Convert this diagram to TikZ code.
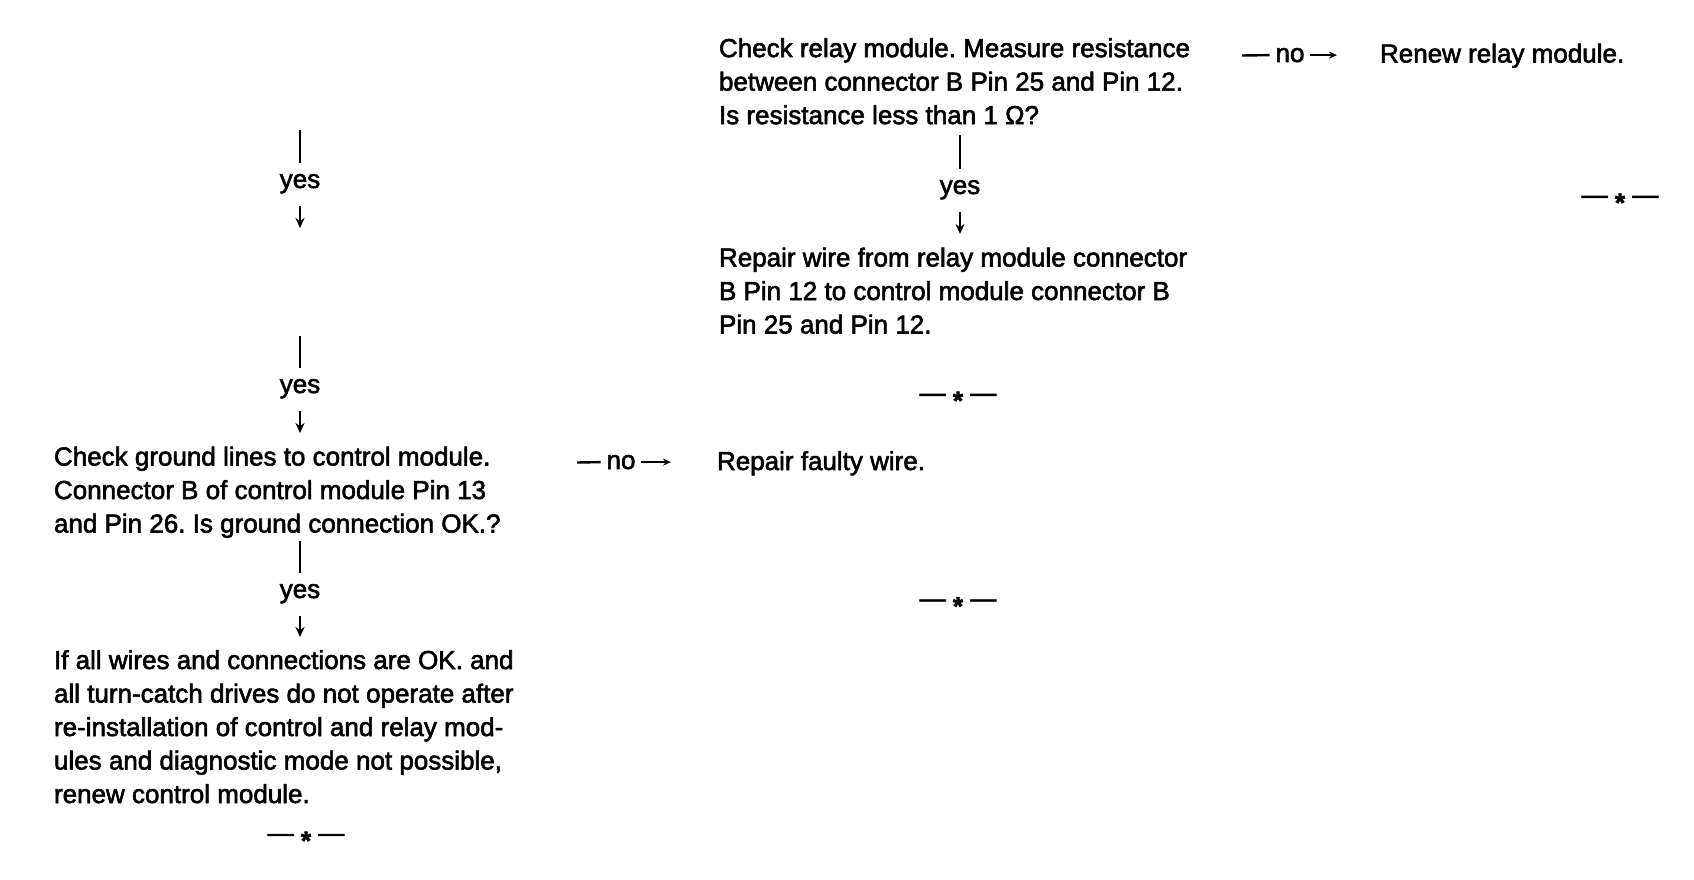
\documentclass[tikz,border=0pt]{standalone}
\usepackage{fontspec}
\setmainfont{Liberation Sans}[FakeBold=2.2]
\usetikzlibrary{arrows.meta}
\frenchspacing
\begin{document}
\begin{tikzpicture}[x=1pt,y=-1pt,
  every node/.style={font=\fontsize{26}{33.5}\selectfont, inner sep=0pt, outer sep=0pt, text=black},
  txtbox/.style={anchor=north west, align=left},
  linebox/.style={anchor=base west},
  yeslbl/.style={anchor=base, text height=13.5pt, text depth=5.5pt, inner ysep=12pt},
  nolbl/.style={anchor=base},
  endmark/.style={anchor=base},
  stem/.style={line width=2.8pt},
  down/.style={line width=2.4pt, -{Stealth[length=10pt,width=9pt]}},
  dashln/.style={line width=2.4pt},
  rarrow/.style={line width=2pt, -{Stealth[length=8pt,width=7pt]}},
]
\fill[white] (0,0) rectangle (1694,880);
\newcommand{\sepmark}{—\ \raisebox{-0.31em}{\textbf{*}}\ —}

% ---------- left column ----------
\coordinate (s1) at (300,130);
\node[yeslbl] (y1) at (300,188) {yes};
\coordinate (t1) at (300,228);
\draw[stem] (s1) -- (y1.north);
\draw[down] (y1.south) -- (t1);

\coordinate (s2) at (300,336);
\node[yeslbl] (y2) at (300,393) {yes};
\coordinate (t2) at (300,433);
\draw[stem] (s2) -- (y2.north);
\draw[down] (y2.south) -- (t2);

\node[txtbox] (ground) at (54,{465.5-23.45}) {\strut Check ground lines to control module.\\Connector B of control module Pin 13\\and Pin 26. Is ground connection OK.?};

\coordinate (s3) at (300,541);
\node[yeslbl] (y3) at (300,598) {yes};
\coordinate (t3) at (300,637);
\draw[stem] (s3) -- (y3.north);
\draw[down] (y3.south) -- (t3);

\node[txtbox] (ifall) at (54,{669-23.45}) {\strut If all wires and connections are OK. and\\all turn-catch drives do not operate after\\re-installation of control and relay mod-\\ules and diagnostic mode not possible,\\renew control module.};

\node[endmark] (end1) at (306,841.5) {\sepmark};

% ground -> no -> repair faulty wire
\node[nolbl] (no1) at (621,469) {no};
\node[linebox] (faulty) at (717,470) {Repair faulty wire.};
\coordinate (d1) at (577,462.5);
\draw[dashln] (d1) -- ([xshift=-6pt]no1.west);
\draw[rarrow, shorten >=46pt] ([xshift=6pt]no1.east) -- (no1.east -| faulty.west);
\node[endmark] (end2) at (958,607) {\sepmark};

% ---------- right column ----------
\node[txtbox] (relay) at (719,{57.1-23.45}) {\strut Check relay module. Measure resistance\\between connector B Pin 25 and Pin 12.\\Is resistance less than 1 Ω?};

\coordinate (s4) at (960,135);
\node[yeslbl] (y4) at (960,194) {yes};
\coordinate (t4) at (960,234);
\draw[stem] (s4) -- (y4.north);
\draw[down] (y4.south) -- (t4);

\node[txtbox] (repair) at (719,{266.5-23.45}) {\strut Repair wire from relay module connector\\B Pin 12 to control module connector B\\Pin 25 and Pin 12.};
\node[endmark] (end3) at (958,401.5) {\sepmark};

% relay -> no -> renew
\node[nolbl] (no2) at (1290,62) {no};
\node[linebox] (renew) at (1380,62.5) {Renew relay module.};
\coordinate (d2) at (1242,55.5);
\draw[dashln] (d2) -- ([xshift=-6pt]no2.west);
\draw[rarrow, shorten >=43pt] ([xshift=6pt]no2.east) -- (no2.east -| renew.west);
\node[endmark] (end4) at (1620,203.5) {\sepmark};
\end{tikzpicture}
\end{document}
